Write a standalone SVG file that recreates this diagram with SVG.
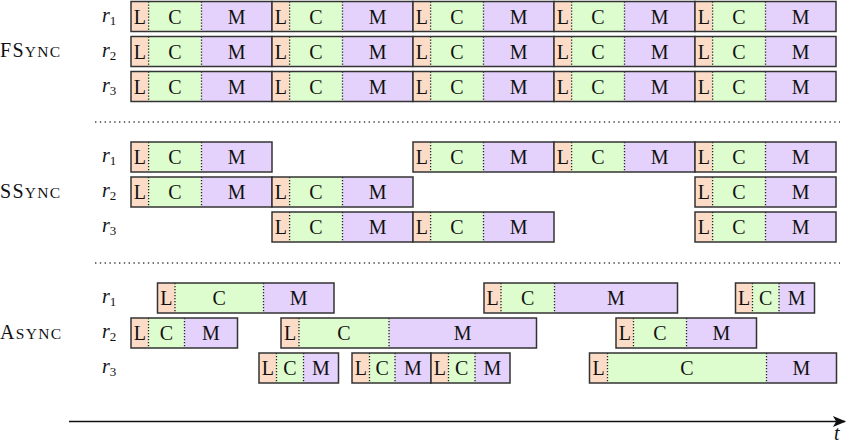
<svg xmlns="http://www.w3.org/2000/svg" width="850" height="444" viewBox="0 0 850 444" font-family="'Liberation Serif', 'DejaVu Serif', serif">
<defs>
<style>
.L{fill:#fddcc7}.C{fill:#ddfdcf}.M{fill:#e4d1fc}
.b{fill:none;stroke:#333;stroke-width:1.5}
.d{stroke:#222;stroke-width:1.3;stroke-dasharray:1.3 1.7}
.sepl{stroke:#444;stroke-width:1.4;stroke-dasharray:1.4 3.4}
text{font-family:'Liberation Serif','DejaVu Serif',serif;fill:#111}
.t{font-size:20px;text-anchor:middle}
.r{font-size:20px;font-style:italic}
.s{font-size:13px;font-style:normal}
.g{font-size:20px;letter-spacing:1.3px}
.sc{font-size:15.5px}
</style>
<marker id="ah" viewBox="0 0 12 10" refX="11" refY="5" markerWidth="15" markerHeight="11" markerUnits="userSpaceOnUse" orient="auto">
<path d="M0,0 L12,5 L0,10 L3,5 Z" fill="#111"/>
</marker>
</defs>
<rect width="850" height="444" fill="#fff"/>

<g id="labels">
<text class="g" x="0" y="57">FS<tspan class="sc">YNC</tspan></text>
<text class="g" x="0" y="198">SS<tspan class="sc">YNC</tspan></text>
<text class="g" x="0" y="339">A<tspan class="sc">SYNC</tspan></text>
<text class="r" x="102" y="21.5">r<tspan class="s" dy="3">1</tspan></text>
<text class="r" x="102" y="56.5">r<tspan class="s" dy="3">2</tspan></text>
<text class="r" x="102" y="91.5">r<tspan class="s" dy="3">3</tspan></text>
<text class="r" x="102" y="162">r<tspan class="s" dy="3">1</tspan></text>
<text class="r" x="102" y="197">r<tspan class="s" dy="3">2</tspan></text>
<text class="r" x="102" y="232">r<tspan class="s" dy="3">3</tspan></text>
<text class="r" x="102" y="303">r<tspan class="s" dy="3">1</tspan></text>
<text class="r" x="102" y="338">r<tspan class="s" dy="3">2</tspan></text>
<text class="r" x="102" y="373">r<tspan class="s" dy="3">3</tspan></text>
</g>

<g id="separators">
<line class="sepl" x1="95" y1="122" x2="840" y2="122"/>
<line class="sepl" x1="95" y1="263" x2="840" y2="263"/>
</g>

<!-- FSync -->
<g id="f1a" transform="translate(131,1.5)"><rect class="L" width="17.6" height="30"/><rect class="C" x="17.6" width="52.9" height="30"/><rect class="M" x="70.5" width="70.5" height="30"/><line class="d" x1="17.6" x2="17.6" y2="30"/><line class="d" x1="70.5" x2="70.5" y2="30"/><rect class="b" width="141" height="30"/><text class="t" x="8.8" y="22">L</text><text class="t" x="44" y="22">C</text><text class="t" x="105.75" y="22">M</text></g>
<g id="f1b" transform="translate(272,1.5)"><rect class="L" width="17.6" height="30"/><rect class="C" x="17.6" width="52.9" height="30"/><rect class="M" x="70.5" width="70.5" height="30"/><line class="d" x1="17.6" x2="17.6" y2="30"/><line class="d" x1="70.5" x2="70.5" y2="30"/><rect class="b" width="141" height="30"/><text class="t" x="8.8" y="22">L</text><text class="t" x="44" y="22">C</text><text class="t" x="105.75" y="22">M</text></g>
<g id="f1c" transform="translate(413,1.5)"><rect class="L" width="17.6" height="30"/><rect class="C" x="17.6" width="52.9" height="30"/><rect class="M" x="70.5" width="70.5" height="30"/><line class="d" x1="17.6" x2="17.6" y2="30"/><line class="d" x1="70.5" x2="70.5" y2="30"/><rect class="b" width="141" height="30"/><text class="t" x="8.8" y="22">L</text><text class="t" x="44" y="22">C</text><text class="t" x="105.75" y="22">M</text></g>
<g id="f1d" transform="translate(554,1.5)"><rect class="L" width="17.6" height="30"/><rect class="C" x="17.6" width="52.9" height="30"/><rect class="M" x="70.5" width="70.5" height="30"/><line class="d" x1="17.6" x2="17.6" y2="30"/><line class="d" x1="70.5" x2="70.5" y2="30"/><rect class="b" width="141" height="30"/><text class="t" x="8.8" y="22">L</text><text class="t" x="44" y="22">C</text><text class="t" x="105.75" y="22">M</text></g>
<g id="f1e" transform="translate(695,1.5)"><rect class="L" width="17.6" height="30"/><rect class="C" x="17.6" width="52.9" height="30"/><rect class="M" x="70.5" width="70.5" height="30"/><line class="d" x1="17.6" x2="17.6" y2="30"/><line class="d" x1="70.5" x2="70.5" y2="30"/><rect class="b" width="141" height="30"/><text class="t" x="8.8" y="22">L</text><text class="t" x="44" y="22">C</text><text class="t" x="105.75" y="22">M</text></g>

<g id="f2a" transform="translate(131,36.5)"><rect class="L" width="17.6" height="30"/><rect class="C" x="17.6" width="52.9" height="30"/><rect class="M" x="70.5" width="70.5" height="30"/><line class="d" x1="17.6" x2="17.6" y2="30"/><line class="d" x1="70.5" x2="70.5" y2="30"/><rect class="b" width="141" height="30"/><text class="t" x="8.8" y="22">L</text><text class="t" x="44" y="22">C</text><text class="t" x="105.75" y="22">M</text></g>
<g id="f2b" transform="translate(272,36.5)"><rect class="L" width="17.6" height="30"/><rect class="C" x="17.6" width="52.9" height="30"/><rect class="M" x="70.5" width="70.5" height="30"/><line class="d" x1="17.6" x2="17.6" y2="30"/><line class="d" x1="70.5" x2="70.5" y2="30"/><rect class="b" width="141" height="30"/><text class="t" x="8.8" y="22">L</text><text class="t" x="44" y="22">C</text><text class="t" x="105.75" y="22">M</text></g>
<g id="f2c" transform="translate(413,36.5)"><rect class="L" width="17.6" height="30"/><rect class="C" x="17.6" width="52.9" height="30"/><rect class="M" x="70.5" width="70.5" height="30"/><line class="d" x1="17.6" x2="17.6" y2="30"/><line class="d" x1="70.5" x2="70.5" y2="30"/><rect class="b" width="141" height="30"/><text class="t" x="8.8" y="22">L</text><text class="t" x="44" y="22">C</text><text class="t" x="105.75" y="22">M</text></g>
<g id="f2d" transform="translate(554,36.5)"><rect class="L" width="17.6" height="30"/><rect class="C" x="17.6" width="52.9" height="30"/><rect class="M" x="70.5" width="70.5" height="30"/><line class="d" x1="17.6" x2="17.6" y2="30"/><line class="d" x1="70.5" x2="70.5" y2="30"/><rect class="b" width="141" height="30"/><text class="t" x="8.8" y="22">L</text><text class="t" x="44" y="22">C</text><text class="t" x="105.75" y="22">M</text></g>
<g id="f2e" transform="translate(695,36.5)"><rect class="L" width="17.6" height="30"/><rect class="C" x="17.6" width="52.9" height="30"/><rect class="M" x="70.5" width="70.5" height="30"/><line class="d" x1="17.6" x2="17.6" y2="30"/><line class="d" x1="70.5" x2="70.5" y2="30"/><rect class="b" width="141" height="30"/><text class="t" x="8.8" y="22">L</text><text class="t" x="44" y="22">C</text><text class="t" x="105.75" y="22">M</text></g>

<g id="f3a" transform="translate(131,71.5)"><rect class="L" width="17.6" height="30"/><rect class="C" x="17.6" width="52.9" height="30"/><rect class="M" x="70.5" width="70.5" height="30"/><line class="d" x1="17.6" x2="17.6" y2="30"/><line class="d" x1="70.5" x2="70.5" y2="30"/><rect class="b" width="141" height="30"/><text class="t" x="8.8" y="22">L</text><text class="t" x="44" y="22">C</text><text class="t" x="105.75" y="22">M</text></g>
<g id="f3b" transform="translate(272,71.5)"><rect class="L" width="17.6" height="30"/><rect class="C" x="17.6" width="52.9" height="30"/><rect class="M" x="70.5" width="70.5" height="30"/><line class="d" x1="17.6" x2="17.6" y2="30"/><line class="d" x1="70.5" x2="70.5" y2="30"/><rect class="b" width="141" height="30"/><text class="t" x="8.8" y="22">L</text><text class="t" x="44" y="22">C</text><text class="t" x="105.75" y="22">M</text></g>
<g id="f3c" transform="translate(413,71.5)"><rect class="L" width="17.6" height="30"/><rect class="C" x="17.6" width="52.9" height="30"/><rect class="M" x="70.5" width="70.5" height="30"/><line class="d" x1="17.6" x2="17.6" y2="30"/><line class="d" x1="70.5" x2="70.5" y2="30"/><rect class="b" width="141" height="30"/><text class="t" x="8.8" y="22">L</text><text class="t" x="44" y="22">C</text><text class="t" x="105.75" y="22">M</text></g>
<g id="f3d" transform="translate(554,71.5)"><rect class="L" width="17.6" height="30"/><rect class="C" x="17.6" width="52.9" height="30"/><rect class="M" x="70.5" width="70.5" height="30"/><line class="d" x1="17.6" x2="17.6" y2="30"/><line class="d" x1="70.5" x2="70.5" y2="30"/><rect class="b" width="141" height="30"/><text class="t" x="8.8" y="22">L</text><text class="t" x="44" y="22">C</text><text class="t" x="105.75" y="22">M</text></g>
<g id="f3e" transform="translate(695,71.5)"><rect class="L" width="17.6" height="30"/><rect class="C" x="17.6" width="52.9" height="30"/><rect class="M" x="70.5" width="70.5" height="30"/><line class="d" x1="17.6" x2="17.6" y2="30"/><line class="d" x1="70.5" x2="70.5" y2="30"/><rect class="b" width="141" height="30"/><text class="t" x="8.8" y="22">L</text><text class="t" x="44" y="22">C</text><text class="t" x="105.75" y="22">M</text></g>

<!-- SSync -->
<g id="s1a" transform="translate(131,142)"><rect class="L" width="17.6" height="30"/><rect class="C" x="17.6" width="52.9" height="30"/><rect class="M" x="70.5" width="70.5" height="30"/><line class="d" x1="17.6" x2="17.6" y2="30"/><line class="d" x1="70.5" x2="70.5" y2="30"/><rect class="b" width="141" height="30"/><text class="t" x="8.8" y="22">L</text><text class="t" x="44" y="22">C</text><text class="t" x="105.75" y="22">M</text></g>
<g id="s1b" transform="translate(413,142)"><rect class="L" width="17.6" height="30"/><rect class="C" x="17.6" width="52.9" height="30"/><rect class="M" x="70.5" width="70.5" height="30"/><line class="d" x1="17.6" x2="17.6" y2="30"/><line class="d" x1="70.5" x2="70.5" y2="30"/><rect class="b" width="141" height="30"/><text class="t" x="8.8" y="22">L</text><text class="t" x="44" y="22">C</text><text class="t" x="105.75" y="22">M</text></g>
<g id="s1c" transform="translate(554,142)"><rect class="L" width="17.6" height="30"/><rect class="C" x="17.6" width="52.9" height="30"/><rect class="M" x="70.5" width="70.5" height="30"/><line class="d" x1="17.6" x2="17.6" y2="30"/><line class="d" x1="70.5" x2="70.5" y2="30"/><rect class="b" width="141" height="30"/><text class="t" x="8.8" y="22">L</text><text class="t" x="44" y="22">C</text><text class="t" x="105.75" y="22">M</text></g>
<g id="s1d" transform="translate(695,142)"><rect class="L" width="17.6" height="30"/><rect class="C" x="17.6" width="52.9" height="30"/><rect class="M" x="70.5" width="70.5" height="30"/><line class="d" x1="17.6" x2="17.6" y2="30"/><line class="d" x1="70.5" x2="70.5" y2="30"/><rect class="b" width="141" height="30"/><text class="t" x="8.8" y="22">L</text><text class="t" x="44" y="22">C</text><text class="t" x="105.75" y="22">M</text></g>

<g id="s2a" transform="translate(131,177)"><rect class="L" width="17.6" height="30"/><rect class="C" x="17.6" width="52.9" height="30"/><rect class="M" x="70.5" width="70.5" height="30"/><line class="d" x1="17.6" x2="17.6" y2="30"/><line class="d" x1="70.5" x2="70.5" y2="30"/><rect class="b" width="141" height="30"/><text class="t" x="8.8" y="22">L</text><text class="t" x="44" y="22">C</text><text class="t" x="105.75" y="22">M</text></g>
<g id="s2b" transform="translate(272,177)"><rect class="L" width="17.6" height="30"/><rect class="C" x="17.6" width="52.9" height="30"/><rect class="M" x="70.5" width="70.5" height="30"/><line class="d" x1="17.6" x2="17.6" y2="30"/><line class="d" x1="70.5" x2="70.5" y2="30"/><rect class="b" width="141" height="30"/><text class="t" x="8.8" y="22">L</text><text class="t" x="44" y="22">C</text><text class="t" x="105.75" y="22">M</text></g>
<g id="s2c" transform="translate(695,177)"><rect class="L" width="17.6" height="30"/><rect class="C" x="17.6" width="52.9" height="30"/><rect class="M" x="70.5" width="70.5" height="30"/><line class="d" x1="17.6" x2="17.6" y2="30"/><line class="d" x1="70.5" x2="70.5" y2="30"/><rect class="b" width="141" height="30"/><text class="t" x="8.8" y="22">L</text><text class="t" x="44" y="22">C</text><text class="t" x="105.75" y="22">M</text></g>

<g id="s3a" transform="translate(272,212)"><rect class="L" width="17.6" height="30"/><rect class="C" x="17.6" width="52.9" height="30"/><rect class="M" x="70.5" width="70.5" height="30"/><line class="d" x1="17.6" x2="17.6" y2="30"/><line class="d" x1="70.5" x2="70.5" y2="30"/><rect class="b" width="141" height="30"/><text class="t" x="8.8" y="22">L</text><text class="t" x="44" y="22">C</text><text class="t" x="105.75" y="22">M</text></g>
<g id="s3b" transform="translate(413,212)"><rect class="L" width="17.6" height="30"/><rect class="C" x="17.6" width="52.9" height="30"/><rect class="M" x="70.5" width="70.5" height="30"/><line class="d" x1="17.6" x2="17.6" y2="30"/><line class="d" x1="70.5" x2="70.5" y2="30"/><rect class="b" width="141" height="30"/><text class="t" x="8.8" y="22">L</text><text class="t" x="44" y="22">C</text><text class="t" x="105.75" y="22">M</text></g>
<g id="s3c" transform="translate(695,212)"><rect class="L" width="17.6" height="30"/><rect class="C" x="17.6" width="52.9" height="30"/><rect class="M" x="70.5" width="70.5" height="30"/><line class="d" x1="17.6" x2="17.6" y2="30"/><line class="d" x1="70.5" x2="70.5" y2="30"/><rect class="b" width="141" height="30"/><text class="t" x="8.8" y="22">L</text><text class="t" x="44" y="22">C</text><text class="t" x="105.75" y="22">M</text></g>

<!-- Async -->
<g id="a1a" transform="translate(157.5,283)"><rect class="L" width="17.5" height="30"/><rect class="C" x="17.5" width="88.5" height="30"/><rect class="M" x="106" width="70.5" height="30"/><line class="d" x1="17.5" x2="17.5" y2="30"/><line class="d" x1="106" x2="106" y2="30"/><rect class="b" width="176.5" height="30"/><text class="t" x="8.75" y="22">L</text><text class="t" x="61.75" y="22">C</text><text class="t" x="141.25" y="22">M</text></g>
<g id="a1b" transform="translate(484,283)"><rect class="L" width="17" height="30"/><rect class="C" x="17" width="53.5" height="30"/><rect class="M" x="70.5" width="123" height="30"/><line class="d" x1="17" x2="17" y2="30"/><line class="d" x1="70.5" x2="70.5" y2="30"/><rect class="b" width="193.5" height="30"/><text class="t" x="8.5" y="22">L</text><text class="t" x="43.75" y="22">C</text><text class="t" x="132" y="22">M</text></g>
<g id="a1c" transform="translate(735.5,283)"><rect class="L" width="17" height="30"/><rect class="C" x="17" width="26.5" height="30"/><rect class="M" x="43.5" width="35.5" height="30"/><line class="d" x1="17" x2="17" y2="30"/><line class="d" x1="43.5" x2="43.5" y2="30"/><rect class="b" width="79" height="30"/><text class="t" x="8.5" y="22">L</text><text class="t" x="30.25" y="22">C</text><text class="t" x="61.25" y="22">M</text></g>

<g id="a2a" transform="translate(131,318)"><rect class="L" width="17.5" height="30"/><rect class="C" x="17.5" width="36" height="30"/><rect class="M" x="53.5" width="53" height="30"/><line class="d" x1="17.5" x2="17.5" y2="30"/><line class="d" x1="53.5" x2="53.5" y2="30"/><rect class="b" width="106.5" height="30"/><text class="t" x="8.75" y="22">L</text><text class="t" x="35.5" y="22">C</text><text class="t" x="80" y="22">M</text></g>
<g id="a2b" transform="translate(281,318)"><rect class="L" width="18" height="30"/><rect class="C" x="18" width="90" height="30"/><rect class="M" x="108" width="147.5" height="30"/><line class="d" x1="18" x2="18" y2="30"/><line class="d" x1="108" x2="108" y2="30"/><rect class="b" width="255.5" height="30"/><text class="t" x="9" y="22">L</text><text class="t" x="63" y="22">C</text><text class="t" x="181.75" y="22">M</text></g>
<g id="a2c" transform="translate(616,318)"><rect class="L" width="17.5" height="30"/><rect class="C" x="17.5" width="53" height="30"/><rect class="M" x="70.5" width="70" height="30"/><line class="d" x1="17.5" x2="17.5" y2="30"/><line class="d" x1="70.5" x2="70.5" y2="30"/><rect class="b" width="140.5" height="30"/><text class="t" x="8.75" y="22">L</text><text class="t" x="44" y="22">C</text><text class="t" x="105.5" y="22">M</text></g>

<g id="a3a" transform="translate(259,353)"><rect class="L" width="17.5" height="30"/><rect class="C" x="17.5" width="27" height="30"/><rect class="M" x="44.5" width="35" height="30"/><line class="d" x1="17.5" x2="17.5" y2="30"/><line class="d" x1="44.5" x2="44.5" y2="30"/><rect class="b" width="79.5" height="30"/><text class="t" x="8.75" y="22">L</text><text class="t" x="31" y="22">C</text><text class="t" x="62" y="22">M</text></g>
<g id="a3b" transform="translate(352,353)"><rect class="L" width="17.5" height="30"/><rect class="C" x="17.5" width="25.5" height="30"/><rect class="M" x="43" width="36" height="30"/><line class="d" x1="17.5" x2="17.5" y2="30"/><line class="d" x1="43" x2="43" y2="30"/><rect class="b" width="79" height="30"/><text class="t" x="8.75" y="22">L</text><text class="t" x="30.25" y="22">C</text><text class="t" x="61" y="22">M</text></g>
<g id="a3c" transform="translate(431,353)"><rect class="L" width="17.5" height="30"/><rect class="C" x="17.5" width="26.5" height="30"/><rect class="M" x="44" width="35" height="30"/><line class="d" x1="17.5" x2="17.5" y2="30"/><line class="d" x1="44" x2="44" y2="30"/><rect class="b" width="79" height="30"/><text class="t" x="8.75" y="22">L</text><text class="t" x="30.75" y="22">C</text><text class="t" x="61.5" y="22">M</text></g>
<g id="a3d" transform="translate(589.5,353)"><rect class="L" width="18" height="30"/><rect class="C" x="18" width="159" height="30"/><rect class="M" x="177" width="70" height="30"/><line class="d" x1="18" x2="18" y2="30"/><line class="d" x1="177" x2="177" y2="30"/><rect class="b" width="247" height="30"/><text class="t" x="9" y="22">L</text><text class="t" x="97.5" y="22">C</text><text class="t" x="212" y="22">M</text></g>

<g id="axis">
<line x1="69" y1="421.5" x2="845" y2="421.5" stroke="#111" stroke-width="1.6" marker-end="url(#ah)"/>
<text class="r" x="834" y="440" font-size="17">t</text>
</g>
</svg>
